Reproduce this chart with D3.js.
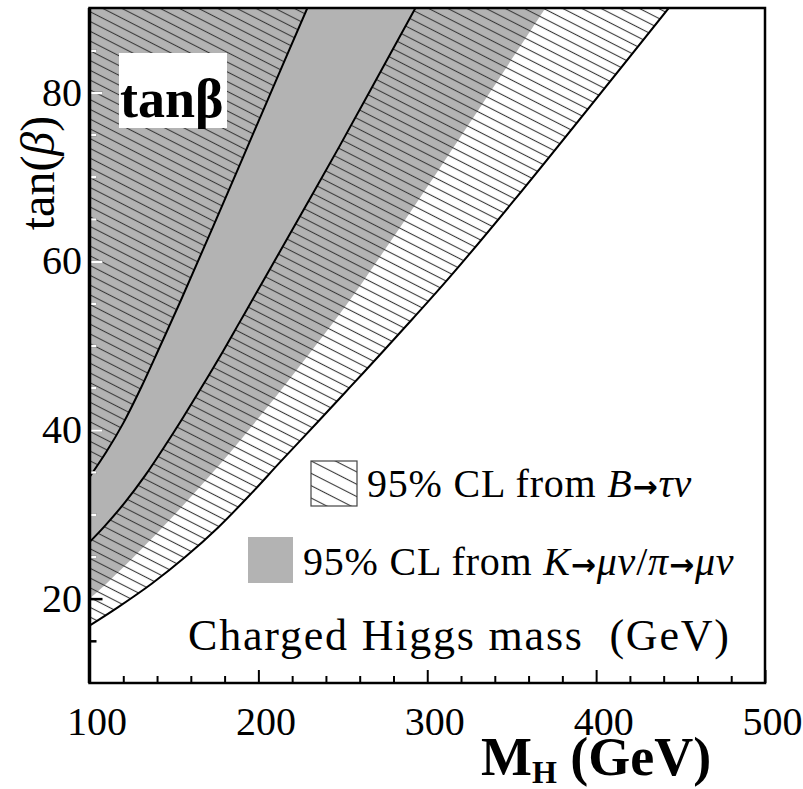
<!DOCTYPE html>
<html>
<head>
<meta charset="utf-8">
<script src="https://cdn.jsdelivr.net/npm/d3@7"></script>
<style>
  body { margin: 0; background: #fff; }
  svg text { font-family: "Liberation Serif", "DejaVu Serif", serif; }
</style>
</head>
<body>
<div id="chart"></div>
<script>
// tick values
var massTicks = [100, 200, 300, 400, 500];
var massMinor = d3.range(120, 500, 20).filter(d => d % 100 !== 0);
var tanTicks = [20, 40, 60, 80];
var tanMinor = [15, 25, 30, 35, 45, 50, 55, 65, 70, 75, 85];

// boundaries: [M_H (GeV), tan(beta)]
var bTauLeft = [[100, 34.4], [110, 37.4], [120, 40.8], [131, 45.2], [142, 50.0], [154, 55.3], [173, 64.0], [204, 78.4], [229, 90]];
var bTauMid = [[100, 26.7], [109, 28.6], [121, 31.4], [133, 34.6], [145, 38.2], [155.5, 41.5], [165, 44.6], [179, 49.3], [189, 52.8], [203, 57.7], [248, 73.6], [293, 90]];
var kMuEdge = [[100, 20.0], [109, 21.6], [123, 24.3], [143, 28.4], [162.5, 32.6], [184, 37.5], [196, 40.4], [213, 44.6], [230.5, 49.1], [248, 53.7], [262, 57.6], [308, 71.2], [370, 90]];
var bTauRight = [[100, 16.8], [117, 19.0], [137, 21.8], [156.5, 24.9], [176.5, 28.5], [196, 32.5], [213, 36.2], [235, 40.9], [254, 45.0], [272, 48.9], [291.5, 53.2], [312, 57.8], [351, 67.1], [443, 90]];

var svgWidth = 803;
var svgHeight = 789;

var plot = { left: 89.5, right: 765, top: 8, bottom: 683 };

var svg = d3.select("#chart")
  .append("svg")
  .attr("width", svgWidth)
  .attr("height", svgHeight);

var x = d3.scaleLinear().domain([100, 500]).range([plot.left, plot.right]);
var y = d3.scaleLinear().domain([10, 90]).range([plot.bottom, plot.top]);

var gray = "#b3b3b3";

var defs = svg.append("defs");

function hatch(id, step, width) {
  var p = defs.append("pattern")
    .attr("id", id)
    .attr("patternUnits", "userSpaceOnUse")
    .attr("width", 10)
    .attr("height", step)
    .attr("patternTransform", "rotate(27)");
  p.append("line")
    .attr("x1", 0).attr("x2", 10)
    .attr("y1", step / 2).attr("y2", step / 2)
    .attr("stroke", "#3a3a3a")
    .attr("stroke-width", width);
}
hatch("hatch", 8.7, 1.1);
hatch("hatchLegend", 11, 1.1);

var curve = d3.curveCatmullRom.alpha(0.5);
var line = d3.line().x(d => x(d[0])).y(d => y(d[1])).curve(curve);

// region above a curve, up to the top of the frame
function above(pts) {
  return d3.area().x(d => x(d[0])).y0(y(90)).y1(d => y(d[1])).curve(curve)(pts);
}

defs.append("clipPath").attr("id", "frameClip")
  .append("rect")
  .attr("x", plot.left).attr("y", plot.top)
  .attr("width", plot.right - plot.left).attr("height", plot.bottom - plot.top);

defs.append("clipPath").attr("id", "grayClip")
  .append("path").attr("d", above(kMuEdge));

var chartGroup = svg.append("g").attr("clip-path", "url(#frameClip)");

// K -> mu nu / pi -> mu nu band
chartGroup.append("path")
  .attr("d", above(kMuEdge))
  .attr("fill", gray);

// B -> tau nu hatched regions
chartGroup.append("path")
  .attr("d", above(bTauLeft))
  .attr("fill", "url(#hatch)");

var band = line(bTauMid) + "L" + line(bTauRight.slice().reverse()).slice(1) + "Z";
chartGroup.append("path")
  .attr("d", band)
  .attr("fill", "url(#hatch)");

[bTauLeft, bTauMid, bTauRight].forEach(pts => {
  chartGroup.append("path")
    .attr("d", line(pts))
    .attr("fill", "none")
    .attr("stroke", "#000")
    .attr("stroke-width", 2);
});

// ticks, drawn inside the frame
function drawTicks(g, color) {
  g.append("g")
    .attr("transform", `translate(0, ${plot.bottom})`)
    .call(d3.axisBottom(x).tickValues(massTicks).tickSize(-13).tickFormat(""))
    .call(a => a.select(".domain").remove())
    .selectAll("line").attr("stroke", color).attr("stroke-width", 2);
  g.append("g")
    .attr("transform", `translate(0, ${plot.bottom})`)
    .call(d3.axisBottom(x).tickValues(massMinor).tickSize(-7).tickFormat(""))
    .call(a => a.select(".domain").remove())
    .selectAll("line").attr("stroke", color).attr("stroke-width", 2);
  g.append("g")
    .attr("transform", `translate(${plot.left}, 0)`)
    .call(d3.axisLeft(y).tickValues(tanTicks).tickSize(-13).tickFormat(""))
    .call(a => a.select(".domain").remove())
    .selectAll("line").attr("stroke", color).attr("stroke-width", 2.5);
  g.append("g")
    .attr("transform", `translate(${plot.left}, 0)`)
    .call(d3.axisLeft(y).tickValues(tanMinor).tickSize(-7).tickFormat(""))
    .call(a => a.select(".domain").remove())
    .selectAll("line").attr("stroke", color).attr("stroke-width", 2.5);
}
drawTicks(svg.append("g"), "#000");
drawTicks(svg.append("g").attr("clip-path", "url(#grayClip)"), "#fff");

// frame
svg.append("rect")
  .attr("x", plot.left).attr("y", plot.top)
  .attr("width", plot.right - plot.left).attr("height", plot.bottom - plot.top)
  .attr("fill", "none")
  .attr("stroke", "#000")
  .attr("stroke-width", 2.5);
svg.append("line")
  .attr("x1", plot.left).attr("x2", plot.left)
  .attr("y1", plot.top).attr("y2", plot.bottom)
  .attr("stroke", "#000").attr("stroke-width", 3.5);

// tick labels
var xAxis = svg.append("g")
  .attr("transform", `translate(0, ${plot.bottom})`)
  .call(d3.axisBottom(x).tickValues(massTicks).tickSize(0).tickPadding(24));
xAxis.select(".domain").remove();
xAxis.selectAll("text")
  .attr("dx", 7)
  .attr("font-size", 40)
  .attr("font-family", "Liberation Serif")
  .attr("fill", "#000");

var yAxis = svg.append("g")
  .attr("transform", `translate(${plot.left}, 0)`)
  .call(d3.axisLeft(y).tickValues(tanTicks).tickSize(0).tickPadding(7.5));
yAxis.select(".domain").remove();
yAxis.selectAll("text")
  .attr("font-size", 40)
  .attr("font-family", "Liberation Serif")
  .attr("fill", "#000");

// y title
svg.append("text")
  .attr("transform", "translate(54, 173) rotate(-90)")
  .attr("text-anchor", "middle")
  .attr("font-size", 48)
  .html('tan(<tspan font-style="italic">β</tspan>)');

// boxed tanβ label
svg.append("rect")
  .attr("x", 119).attr("y", 53)
  .attr("width", 108).attr("height", 75)
  .attr("fill", "#fff");
svg.append("text")
  .attr("x", 120).attr("y", 117)
  .attr("font-size", 54)
  .attr("font-weight", "bold")
  .text("tanβ");

// legend
var arrow = '<tspan font-family="DejaVu Sans" font-weight="bold" font-size="30">→</tspan>';

svg.append("rect")
  .attr("x", 311).attr("y", 461)
  .attr("width", 46).attr("height", 45)
  .attr("fill", "url(#hatchLegend)")
  .attr("stroke", "#444")
  .attr("stroke-width", 1.2);
svg.append("text")
  .attr("x", 367).attr("y", 497)
  .attr("font-size", 40)
  .attr("letter-spacing", 0.8)
  .html('95% CL from <tspan font-style="italic">B</tspan>' + arrow + '<tspan font-style="italic">τν</tspan>');

svg.append("rect")
  .attr("x", 248).attr("y", 537)
  .attr("width", 45).attr("height", 46)
  .attr("fill", gray);
svg.append("text")
  .attr("x", 303).attr("y", 575)
  .attr("font-size", 40)
  .attr("letter-spacing", 0.8)
  .html('95% CL from <tspan font-style="italic">K</tspan>' + arrow + '<tspan font-style="italic">μν</tspan>/<tspan font-style="italic">π</tspan>' + arrow + '<tspan font-style="italic">μν</tspan>');

svg.append("text")
  .attr("x", 188).attr("y", 650)
  .attr("font-size", 44)
  .attr("letter-spacing", 1.8)
  .style("white-space", "pre")
  .text("Charged Higgs mass  (GeV)");

// bottom title
svg.append("text")
  .attr("x", 481).attr("y", 775)
  .attr("font-size", 54)
  .attr("font-weight", "bold")
  .html('M<tspan font-size="32" dy="8">H</tspan><tspan dy="-8"> (GeV)</tspan>');
</script>
</body>
</html>
